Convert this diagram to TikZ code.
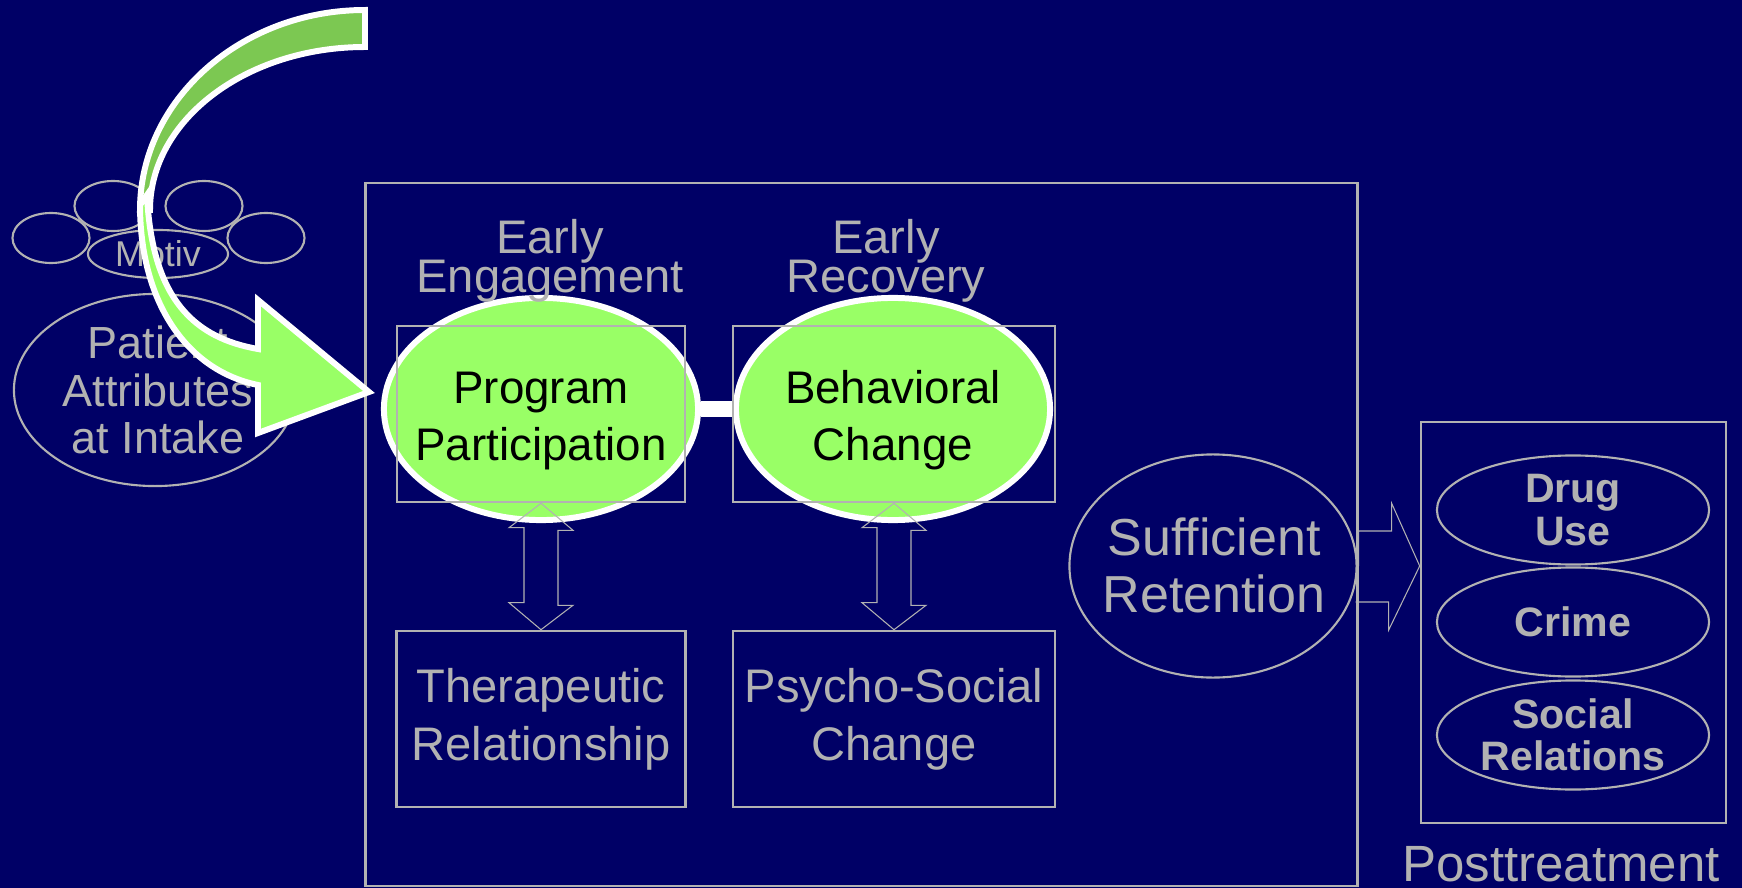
\documentclass[tikz,border=0pt]{standalone}
\usepackage{fontspec}
\setmainfont{Liberation Sans}
\usetikzlibrary{shapes.geometric,calc}
\definecolor{navybg}{RGB}{0,0,102}
\definecolor{lgray}{RGB}{178,178,178}
\definecolor{lgreen}{RGB}{153,255,102}
\definecolor{dgreen}{RGB}{124,200,82}
\newcommand{\txtsz}[2]{\fontsize{#1}{#2}\selectfont\lineskiplimit=-30pt\relax}
\tikzset{
  gbox/.style={rectangle,draw=lgray,line width=0.7pt,inner sep=0pt,text=lgray,align=center},
  gell/.style={ellipse,draw=lgray,line width=0.6pt,inner sep=0pt,text=lgray,align=center},
  stage/.style={ellipse,fill=lgreen,draw=white,line width=1.7pt,inner sep=0pt,
    minimum width=3.14cm,minimum height=2.22cm},
  gtext/.style={text=lgray,align=center,inner sep=0pt},
  btext/.style={text=black,align=center,inner sep=0pt,font=\txtsz{13}{16.2}},
  hollow/.style={draw=lgray,line width=0.3pt,line join=miter},
  entryarrow/.style={draw=white,line width=1.7pt,line join=miter}
}
\begin{document}
\begin{tikzpicture}[x=0.01cm,y=-0.01cm]
\fill[navybg] (0,0) rectangle (1742,888);
\useasboundingbox (0,0) rectangle (1742,888);
% treatment frame
\node[gbox,minimum width=9.91cm,minimum height=7.03cm] (treat) at (861.5,534.5) {};
% patient attributes and motivation cloud
\node[gell,minimum width=2.82cm,minimum height=1.92cm] (patient) at (155,390) {};
\node[gtext,font=\txtsz{12.8}{13.4}] (patientT) at (158,390) {Patient\\Attributes\\at Intake};
\foreach \cx/\cy [count=\i] in {51/238,113/206,204/206,266/238}
  \node[gell,minimum width=0.77cm,minimum height=0.5cm] (cl\i) at (\cx,\cy) {};
\node[gell,minimum width=1.4cm,minimum height=0.48cm,font=\txtsz{10.2}{12}] (motiv) at (158,254) {Motiv};
% curved entry arrow
\coordinate (tip) at (369,392);
\filldraw[entryarrow,fill=dgreen] (365,10) .. controls (241,10) and (140,100) .. (140,210)
  -- (150,210) .. controls (150,120) and (246,47) .. (365,47) -- cycle;
\filldraw[entryarrow,fill=lgreen] (140,205) .. controls (140,300) and (185,370) .. (258,385)
  -- (258,433) -- (tip) -- (258,300) -- (258,349)
  .. controls (195,338) and (152,300) .. (147,195) -- cycle;
% early stages
\node[stage] (prog) at (541,409) {};
\node[stage] (behav) at (893,409) {};
\draw[white,line width=0.15cm] (prog.east) -- (behav.west);
\node[gbox,minimum width=2.88cm,minimum height=1.76cm] (eeBox) at (541,414) {};
\node[gbox,minimum width=3.22cm,minimum height=1.76cm] (erBox) at (894,414) {};
\node[btext] (progT) at (541,421) {Program\\Participation};
\node[btext] (behavT) at (893,420) {Behavioral\\Change};
\node[gtext,font=\txtsz{13.4}{11.1}] (eeT) at (550,260.5) {Early\\Engagement};
\node[gtext,font=\txtsz{13.4}{11.1}] (erT) at (886,260.5) {Early\\Recovery};
\node[gbox,minimum width=2.89cm,minimum height=1.76cm,font=\txtsz{13.4}{16.5}] (thera) at (541,719) {Therapeutic\\Relationship};
\node[gbox,minimum width=3.22cm,minimum height=1.76cm,font=\txtsz{13.4}{16.5}] (psycho) at (894,719) {Psycho-Social\\Change};
\foreach \a/\b in {eeBox/thera,erBox/psycho}
  \draw[hollow] (\a.south) -- ++(32,27) -- ++(-15,0) -- ++(0,75) -- ++(15,0) -- (\b.north)
    -- ++(-32,-27) -- ++(15,0) -- ++(0,-75) -- ++(-15,0) -- cycle;
% retention
\node[gell,minimum width=2.87cm,minimum height=2.23cm] (suff) at (1213,566) {};
\node[gtext,font=\txtsz{14.8}{16.2}] (suffT) at (1214,565) {Sufficient\\Retention};
% posttreatment outcomes
\node[gbox,minimum width=3.05cm,minimum height=4.01cm] (post) at (1573.5,622.5) {};
\foreach \n/\cy/\t in {drug/510/{Drug\\Use},crime/622/Crime,social/735/{Social\\Relations}}
  \node[gell,minimum width=2.72cm,minimum height=1.09cm,font=\txtsz{11.7}{12}\bfseries] (\n) at (1573,\cy) {\t};
\draw[hollow] (treat.east |- suff) -- ++(0,-35) -- ++(33,0) -- ++(0,-28) -- (post.west |- suff)
  -- ++(-31,64) -- ++(0,-28) -- ++(-33,0);
\node[gtext,font=\txtsz{14.5}{16}] (postT) at (1561,864.5) {Posttreatment};
\end{tikzpicture}
\end{document}
